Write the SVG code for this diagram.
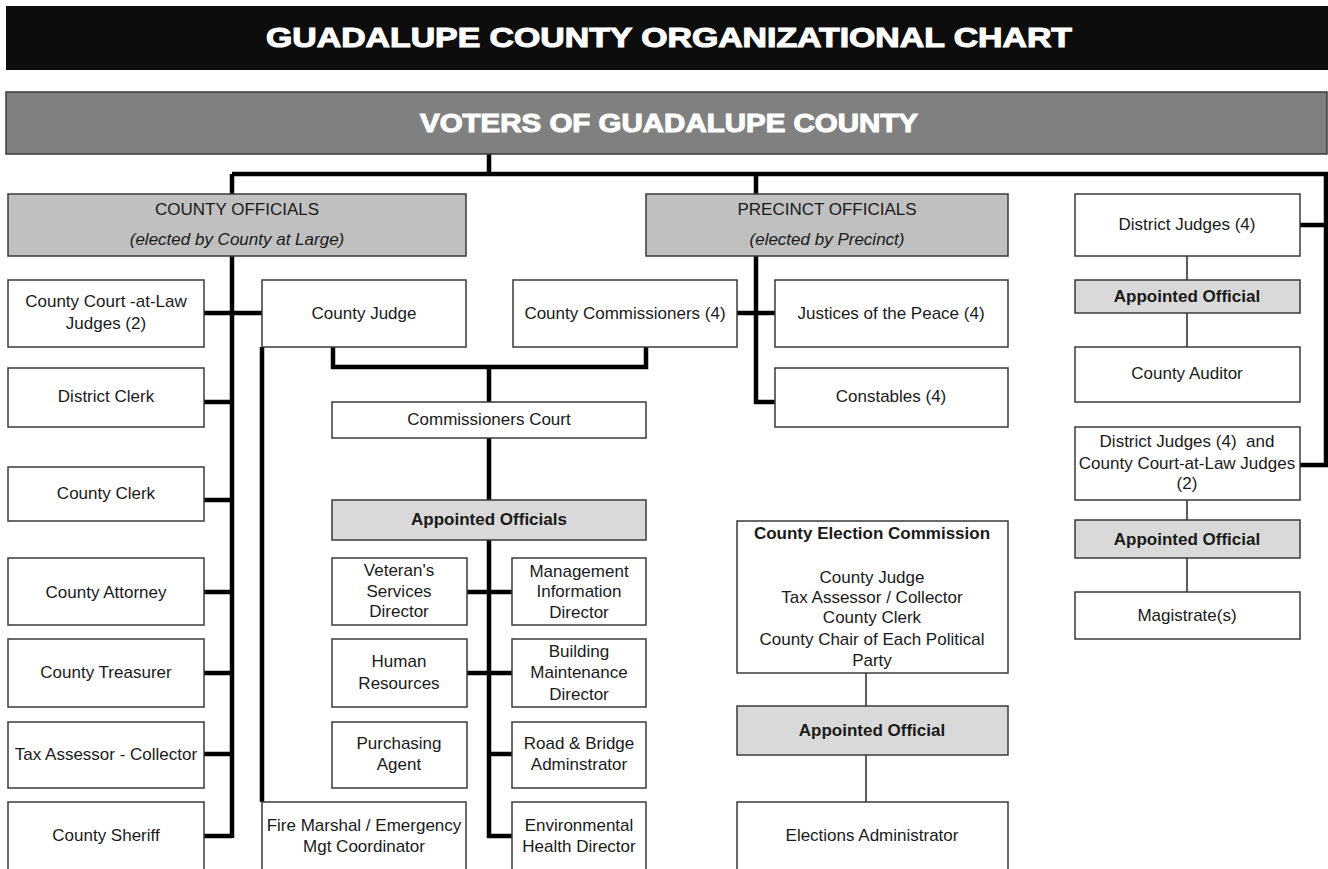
<svg xmlns="http://www.w3.org/2000/svg" width="1328" height="869" viewBox="0 0 1328 869">
  <style>
    .box { fill: #ffffff; stroke: #3a3a3a; stroke-width: 1.5; }
    .hdr { fill: #c0c0c0; stroke: #3a3a3a; stroke-width: 1.5; }
    .appt { fill: #d9d9d9; stroke: #3a3a3a; stroke-width: 1.5; }
    text { font-family: "Liberation Sans", Arial, sans-serif; font-size: 17px; fill: #1a1a1a; text-anchor: middle; }
    .b { font-weight: bold; }
    .i { font-style: italic; }
    .banner { font-weight: bold; fill: #ffffff; stroke: #ffffff; stroke-width: 1.1; }
    .title { font-size: 28px; }
    .voters { font-size: 26px; }
    .thick { fill: none; stroke: #000000; stroke-width: 4.5; stroke-linejoin: miter; }
    .thin { fill: none; stroke: #2a2a2a; stroke-width: 1.5; }
  </style>

  <rect width="1328" height="869" fill="#ffffff"/>

  <!-- title banner -->
  <g id="title">
    <rect x="6" y="6" width="1322" height="64" fill="#0d0d0d"/>
    <text class="banner title" x="669" y="47" textLength="806" lengthAdjust="spacingAndGlyphs">GUADALUPE COUNTY ORGANIZATIONAL CHART</text>
  </g>

  <!-- connectors -->
  <g id="connectors">
    <path class="thick" d="M489,154 V174 M232,174 H1328 M232,174 V194 M756,174 V194 M1326,174 V466 M1300,225 H1328 M1300,465 H1328"/>
    <path class="thick" d="M232,256 V838 M204,313 H262 M204,402 H232 M204,500 H232 M204,592 H232 M204,673 H232 M204,754 H232 M204,836 H232"/>
    <path class="thick" d="M262,347 V802"/>
    <path class="thick" d="M333,347 V367 H646 V347 M489,367 V402 M489,438 V500"/>
    <path class="thick" d="M489,540 V836 H512 M467,592 H512 M467,673 H512 M489,754 H512"/>
    <path class="thick" d="M756,256 V402 H775 M737,313 H775"/>
    <path class="thin" d="M1187,256 V280 M1187,313 V347 M1187,500 V520 M1187,558 V592"/>
    <path class="thin" d="M866,673 V706 M866,755 V802"/>
  </g>

  <g id="voters">
    <rect x="6" y="92" width="1321" height="62" fill="#808080" stroke="#3a3a3a" stroke-width="1.5"/>
    <text class="banner voters" x="669" y="132" textLength="498" lengthAdjust="spacingAndGlyphs">VOTERS OF GUADALUPE COUNTY</text>
  </g>

  <g id="county-officials">
    <rect class="hdr" x="8" y="194" width="458" height="62"/>
    <text x="237" y="215">COUNTY OFFICIALS</text>
    <text class="i" x="237" y="245">(elected by County at Large)</text>
  </g>

  <g id="precinct-officials">
    <rect class="hdr" x="646" y="194" width="362" height="62"/>
    <text x="827" y="215">PRECINCT OFFICIALS</text>
    <text class="i" x="827" y="245">(elected by Precinct)</text>
  </g>

  <g id="county-court-at-law-judges">
    <rect class="box" x="8" y="280" width="196" height="67"/>
    <text x="106" y="307">County Court -at-Law</text>
    <text x="106" y="329">Judges (2)</text>
  </g>
  <g id="district-clerk">
    <rect class="box" x="8" y="368" width="196" height="59"/>
    <text x="106" y="402">District Clerk</text>
  </g>
  <g id="county-clerk">
    <rect class="box" x="8" y="467" width="196" height="54"/>
    <text x="106" y="499">County Clerk</text>
  </g>
  <g id="county-attorney">
    <rect class="box" x="8" y="558" width="196" height="67"/>
    <text x="106" y="598">County Attorney</text>
  </g>
  <g id="county-treasurer">
    <rect class="box" x="8" y="639" width="196" height="68"/>
    <text x="106" y="678">County Treasurer</text>
  </g>
  <g id="tax-assessor-collector">
    <rect class="box" x="8" y="722" width="196" height="66"/>
    <text x="106" y="760">Tax Assessor - Collector</text>
  </g>
  <g id="county-sheriff">
    <rect class="box" x="8" y="802" width="196" height="80"/>
    <text x="106" y="841">County Sheriff</text>
  </g>

  <g id="county-judge">
    <rect class="box" x="262" y="280" width="204" height="67"/>
    <text x="364" y="319">County Judge</text>
  </g>
  <g id="county-commissioners">
    <rect class="box" x="513" y="280" width="224" height="67"/>
    <text x="625" y="319">County Commissioners (4)</text>
  </g>
  <g id="justices-of-the-peace">
    <rect class="box" x="775" y="280" width="233" height="67"/>
    <text x="891" y="319">Justices of the Peace (4)</text>
  </g>
  <g id="constables">
    <rect class="box" x="775" y="368" width="233" height="59"/>
    <text x="891" y="402">Constables (4)</text>
  </g>

  <g id="commissioners-court">
    <rect class="box" x="332" y="402" width="314" height="36"/>
    <text x="489" y="425">Commissioners Court</text>
  </g>
  <g id="appointed-officials">
    <rect class="appt" x="332" y="500" width="314" height="40"/>
    <text class="b" x="489" y="525">Appointed Officials</text>
  </g>

  <g id="veterans-services-director">
    <rect class="box" x="332" y="558" width="135" height="67"/>
    <text x="399" y="576">Veteran's</text>
    <text x="399" y="597">Services</text>
    <text x="399" y="617">Director</text>
  </g>
  <g id="management-information-director">
    <rect class="box" x="512" y="558" width="134" height="67"/>
    <text x="579" y="577">Management</text>
    <text x="579" y="597">Information</text>
    <text x="579" y="618">Director</text>
  </g>
  <g id="human-resources">
    <rect class="box" x="332" y="639" width="135" height="68"/>
    <text x="399" y="667">Human</text>
    <text x="399" y="689">Resources</text>
  </g>
  <g id="building-maintenance-director">
    <rect class="box" x="512" y="639" width="134" height="68"/>
    <text x="579" y="657">Building</text>
    <text x="579" y="678">Maintenance</text>
    <text x="579" y="700">Director</text>
  </g>
  <g id="purchasing-agent">
    <rect class="box" x="332" y="722" width="135" height="66"/>
    <text x="399" y="749">Purchasing</text>
    <text x="399" y="770">Agent</text>
  </g>
  <g id="road-bridge-administrator">
    <rect class="box" x="512" y="722" width="134" height="66"/>
    <text x="579" y="749">Road &amp; Bridge</text>
    <text x="579" y="770">Adminstrator</text>
  </g>
  <g id="fire-marshal">
    <rect class="box" x="262" y="802" width="204" height="80"/>
    <text x="364" y="831">Fire Marshal / Emergency</text>
    <text x="364" y="852">Mgt Coordinator</text>
  </g>
  <g id="environmental-health-director">
    <rect class="box" x="512" y="802" width="134" height="80"/>
    <text x="579" y="831">Environmental</text>
    <text x="579" y="852">Health Director</text>
  </g>

  <g id="county-election-commission">
    <rect class="box" x="737" y="521" width="271" height="152"/>
    <text class="b" x="872" y="539">County Election Commission</text>
    <text x="872" y="583">County Judge</text>
    <text x="872" y="603">Tax Assessor / Collector</text>
    <text x="872" y="623">County Clerk</text>
    <text x="872" y="645">County Chair of Each Political</text>
    <text x="872" y="666">Party</text>
  </g>
  <g id="election-appointed-official">
    <rect class="appt" x="737" y="706" width="271" height="49"/>
    <text class="b" x="872" y="736">Appointed Official</text>
  </g>
  <g id="elections-administrator">
    <rect class="box" x="737" y="802" width="271" height="80"/>
    <text x="872" y="841">Elections Administrator</text>
  </g>

  <g id="district-judges">
    <rect class="box" x="1075" y="194" width="225" height="62"/>
    <text x="1187" y="230">District Judges (4)</text>
  </g>
  <g id="auditor-appointed-official">
    <rect class="appt" x="1075" y="280" width="225" height="33"/>
    <text class="b" x="1187" y="302">Appointed Official</text>
  </g>
  <g id="county-auditor">
    <rect class="box" x="1075" y="347" width="225" height="55"/>
    <text x="1187" y="379">County Auditor</text>
  </g>
  <g id="district-and-ccl-judges">
    <rect class="box" x="1075" y="427" width="225" height="73"/>
    <text x="1187" y="447">District Judges (4)&#160; and</text>
    <text x="1187" y="469">County Court-at-Law Judges</text>
    <text x="1187" y="489">(2)</text>
  </g>
  <g id="magistrate-appointed-official">
    <rect class="appt" x="1075" y="520" width="225" height="38"/>
    <text class="b" x="1187" y="545">Appointed Official</text>
  </g>
  <g id="magistrates">
    <rect class="box" x="1075" y="592" width="225" height="47"/>
    <text x="1187" y="621">Magistrate(s)</text>
  </g>
</svg>
